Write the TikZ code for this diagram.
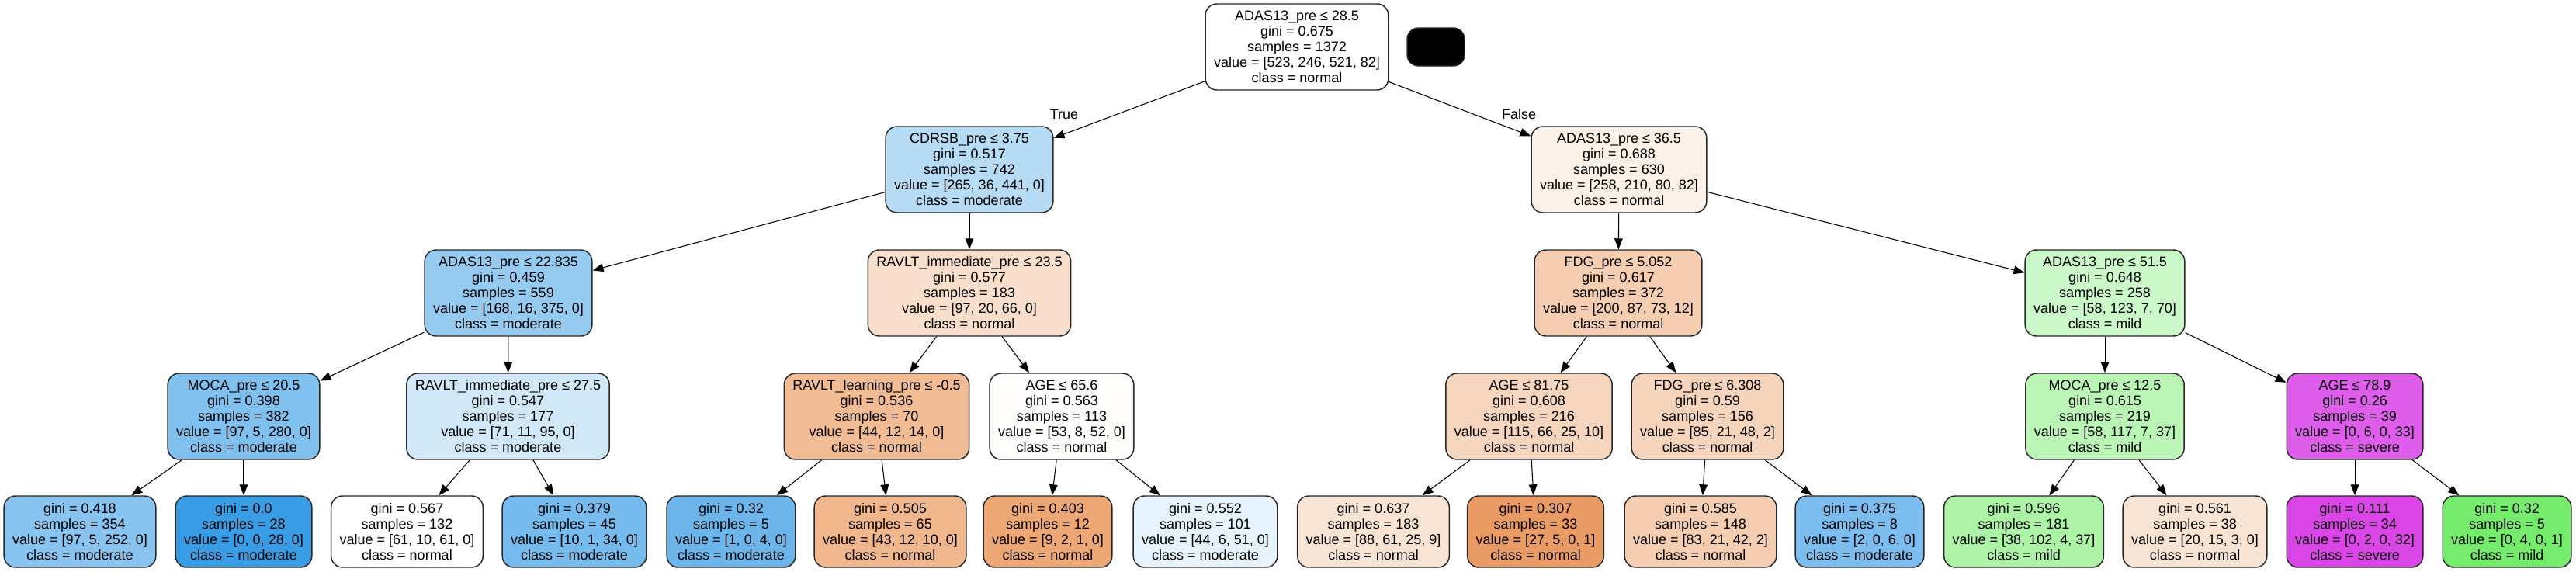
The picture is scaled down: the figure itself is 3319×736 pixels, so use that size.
\documentclass[tikz,border=0pt]{standalone}
\usepackage{fontspec}
\setmainfont{Liberation Sans}
\usepackage{xcolor}
\definecolor{normal}{RGB}{229,129,57}
\definecolor{mild}{RGB}{71,229,57}
\definecolor{moderate}{RGB}{57,157,229}
\definecolor{severe}{RGB}{215,57,229}
\usepackage{tikz}
\usetikzlibrary{arrows.meta}
\tikzstyle{box} = [
    draw=black!85, line width=1.1pt, rounded corners=11pt,
    align=center, inner xsep=8.25pt, inner ysep=0pt,
    font=\fontsize{13.5}{15}\selectfont,
]
\tikzstyle{split} = [box, minimum height=83.25pt]
\tikzstyle{leaf} = [box, minimum height=69pt]
\tikzstyle{edgelabel} = [font=\fontsize{13.5}{15}\selectfont, inner sep=0pt]
\tikzstyle{arrow} = [-{Triangle[length=10.5pt,width=8pt]}, line width=0.8pt]

\begin{document}
\begin{tikzpicture}[x=0.75pt, y=-0.75pt]
    \useasboundingbox (0, 0) rectangle (3319, 736);

    \node (root) at (1671, 60.5) [split, fill=normal!0.2]
        {ADAS13\_pre ≤ 28.5\\gini = 0.675\\samples = 1372\\value = [523, 246, 521, 82]\\class = normal};
    \node (blank) at (1850, 60.5) [draw=black!85, line width=1.1pt, fill=black,
        rounded corners=11pt, minimum width=55.5pt, minimum height=36.75pt] {};

    % depth 1
    \node (cdrsb) at (1249, 218.5) [split, fill=moderate!37]
        {CDRSB\_pre ≤ 3.75\\gini = 0.517\\samples = 742\\value = [265, 36, 441, 0]\\class = moderate};
    \node (adashi) at (2086, 218.5) [split, fill=normal!11]
        {ADAS13\_pre ≤ 36.5\\gini = 0.688\\samples = 630\\value = [258, 210, 80, 82]\\class = normal};
    \node (truelabel) at (1371, 147) [edgelabel] {True};
    \node (falselabel) at (1957, 147) [edgelabel] {False};

    % depth 2
    \node (adaslo) at (655, 377.5) [split, fill=moderate!53]
        {ADAS13\_pre ≤ 22.835\\gini = 0.459\\samples = 559\\value = [168, 16, 375, 0]\\class = moderate};
    \node (ravltimm) at (1249, 377.5) [split, fill=normal!26.5]
        {RAVLT\_immediate\_pre ≤ 23.5\\gini = 0.577\\samples = 183\\value = [97, 20, 66, 0]\\class = normal};
    \node (fdglo) at (2085, 377.5) [split, fill=normal!40]
        {FDG\_pre ≤ 5.052\\gini = 0.617\\samples = 372\\value = [200, 87, 73, 12]\\class = normal};
    \node (adassev) at (2712, 377.5) [split, fill=mild!28]
        {ADAS13\_pre ≤ 51.5\\gini = 0.648\\samples = 258\\value = [58, 123, 7, 70]\\class = mild};

    % depth 3
    \node (mocahi) at (314, 536.5) [split, fill=moderate!64]
        {MOCA\_pre ≤ 20.5\\gini = 0.398\\samples = 382\\value = [97, 5, 280, 0]\\class = moderate};
    \node (ravltimmb) at (654.5, 536.5) [split, fill=moderate!23]
        {RAVLT\_immediate\_pre ≤ 27.5\\gini = 0.547\\samples = 177\\value = [71, 11, 95, 0]\\class = moderate};
    \node (ravltlearn) at (1129.5, 536.5) [split, fill=normal!54]
        {RAVLT\_learning\_pre ≤ -0.5\\gini = 0.536\\samples = 70\\value = [44, 12, 14, 0]\\class = normal};
    \node (agelo) at (1368, 536.5) [split, fill=normal!1.6]
        {AGE ≤ 65.6\\gini = 0.563\\samples = 113\\value = [53, 8, 52, 0]\\class = normal};
    \node (agemid) at (1970, 536.5) [split, fill=normal!33]
        {AGE ≤ 81.75\\gini = 0.608\\samples = 216\\value = [115, 66, 25, 10]\\class = normal};
    \node (fdghi) at (2200, 536.5) [split, fill=normal!34]
        {FDG\_pre ≤ 6.308\\gini = 0.59\\samples = 156\\value = [85, 21, 48, 2]\\class = normal};
    \node (mocalo) at (2712, 536.5) [split, fill=mild!37]
        {MOCA\_pre ≤ 12.5\\gini = 0.615\\samples = 219\\value = [58, 117, 7, 37]\\class = mild};
    \node (agehi) at (3034, 536.5) [split, fill=severe!82]
        {AGE ≤ 78.9\\gini = 0.26\\samples = 39\\value = [0, 6, 0, 33]\\class = severe};

    % leaves
    \node (leaf1) at (103, 685) [leaf, fill=moderate!60]
        {gini = 0.418\\samples = 354\\value = [97, 5, 252, 0]\\class = moderate};
    \node (leaf2) at (314, 685) [leaf, fill=moderate]
        {gini = 0.0\\samples = 28\\value = [0, 0, 28, 0]\\class = moderate};
    \node (leaf3) at (524.5, 685) [leaf, fill=white]
        {gini = 0.567\\samples = 132\\value = [61, 10, 61, 0]\\class = normal};
    \node (leaf4) at (740, 685) [leaf, fill=moderate!69]
        {gini = 0.379\\samples = 45\\value = [10, 1, 34, 0]\\class = moderate};
    \node (leaf5) at (942, 685) [leaf, fill=moderate!75]
        {gini = 0.32\\samples = 5\\value = [1, 0, 4, 0]\\class = moderate};
    \node (leaf6) at (1147, 685) [leaf, fill=normal!58]
        {gini = 0.505\\samples = 65\\value = [43, 12, 10, 0]\\class = normal};
    \node (leaf7) at (1350, 685) [leaf, fill=normal!70]
        {gini = 0.403\\samples = 12\\value = [9, 2, 1, 0]\\class = normal};
    \node (leaf8) at (1553, 685) [leaf, fill=moderate!12]
        {gini = 0.552\\samples = 101\\value = [44, 6, 51, 0]\\class = moderate};
    \node (leaf9) at (1769.5, 685) [leaf, fill=normal!22]
        {gini = 0.637\\samples = 183\\value = [88, 61, 25, 9]\\class = normal};
    \node (leaf10) at (1978.5, 685) [leaf, fill=normal!79]
        {gini = 0.307\\samples = 33\\value = [27, 5, 0, 1]\\class = normal};
    \node (leaf11) at (2191, 685) [leaf, fill=normal!39]
        {gini = 0.585\\samples = 148\\value = [83, 21, 42, 2]\\class = normal};
    \node (leaf12) at (2396, 685) [leaf, fill=moderate!67]
        {gini = 0.375\\samples = 8\\value = [2, 0, 6, 0]\\class = moderate};
    \node (leaf13) at (2607.5, 685) [leaf, fill=mild!45]
        {gini = 0.596\\samples = 181\\value = [38, 102, 4, 37]\\class = mild};
    \node (leaf14) at (2828, 685) [leaf, fill=normal!22]
        {gini = 0.561\\samples = 38\\value = [20, 15, 3, 0]\\class = normal};
    \node (leaf15) at (3034, 685) [leaf, fill=severe!94]
        {gini = 0.111\\samples = 34\\value = [0, 2, 0, 32]\\class = severe};
    \node (leaf16) at (3230, 685) [leaf, fill=mild!75]
        {gini = 0.32\\samples = 5\\value = [0, 4, 0, 1]\\class = mild};

    \draw [arrow] (root) -- (cdrsb);
    \draw [arrow] (root) -- (adashi);
    \draw [arrow] (cdrsb) -- (adaslo);
    \draw [arrow] (cdrsb) -- (ravltimm);
    \draw [arrow] (adashi) -- (fdglo);
    \draw [arrow] (adashi) -- (adassev);
    \draw [arrow] (adaslo) -- (mocahi);
    \draw [arrow] (adaslo) -- (ravltimmb);
    \draw [arrow] (ravltimm) -- (ravltlearn);
    \draw [arrow] (ravltimm) -- (agelo);
    \draw [arrow] (fdglo) -- (agemid);
    \draw [arrow] (fdglo) -- (fdghi);
    \draw [arrow] (adassev) -- (mocalo);
    \draw [arrow] (adassev) -- (agehi);
    \draw [arrow] (mocahi) -- (leaf1);
    \draw [arrow] (mocahi) -- (leaf2);
    \draw [arrow] (ravltimmb) -- (leaf3);
    \draw [arrow] (ravltimmb) -- (leaf4);
    \draw [arrow] (ravltlearn) -- (leaf5);
    \draw [arrow] (ravltlearn) -- (leaf6);
    \draw [arrow] (agelo) -- (leaf7);
    \draw [arrow] (agelo) -- (leaf8);
    \draw [arrow] (agemid) -- (leaf9);
    \draw [arrow] (agemid) -- (leaf10);
    \draw [arrow] (fdghi) -- (leaf11);
    \draw [arrow] (fdghi) -- (leaf12);
    \draw [arrow] (mocalo) -- (leaf13);
    \draw [arrow] (mocalo) -- (leaf14);
    \draw [arrow] (agehi) -- (leaf15);
    \draw [arrow] (agehi) -- (leaf16);

\end{tikzpicture}
\end{document}
